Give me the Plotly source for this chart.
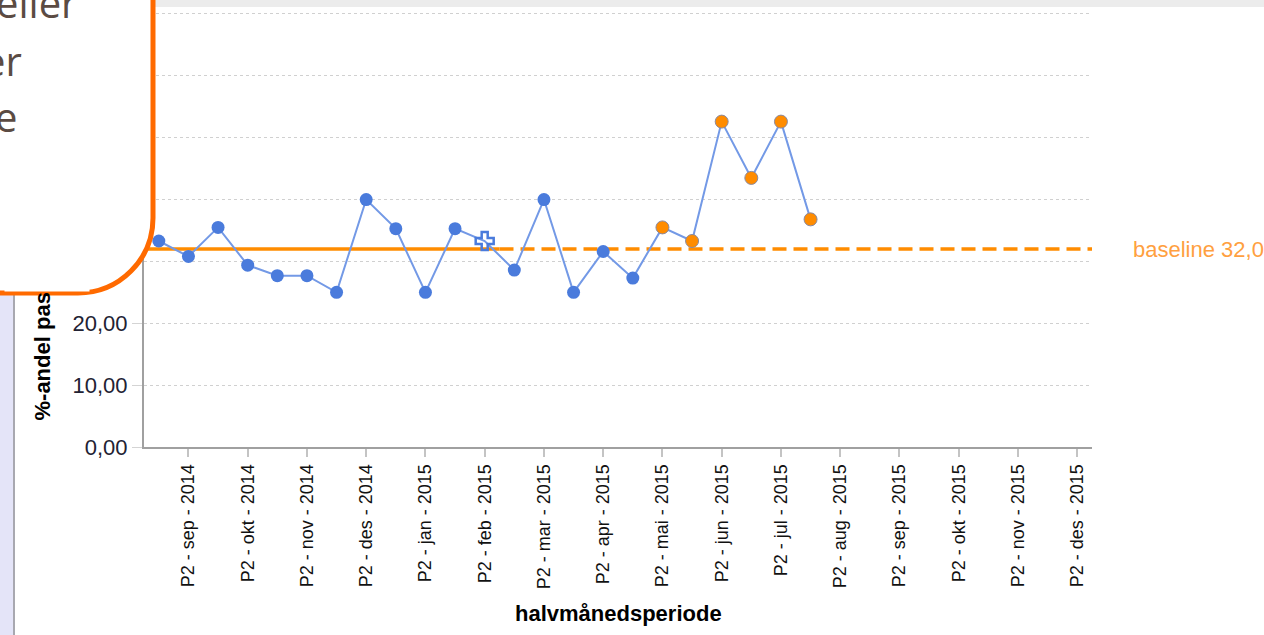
"""
Run chart: half-month share of patients, with baseline and a callout box on top.
"""
import plotly.graph_objects as go

# ---- data -------------------------------------------------------------
MONTHS = [
    "sep - 2014", "okt - 2014", "nov - 2014", "des - 2014",
    "jan - 2015", "feb - 2015", "mar - 2015", "apr - 2015",
    "mai - 2015", "jun - 2015", "jul - 2015", "aug - 2015",
    "sep - 2015", "okt - 2015", "nov - 2015", "des - 2015",
]
HALVES = ["P1", "P2"]
PERIODS = [f"{h} - {m}" for m in MONTHS for h in HALVES]
TICK_PERIODS = [f"P2 - {m}" for m in MONTHS]

VALUES = [
    33.3, 30.8, 35.5, 29.4, 27.7, 27.7, 25.0, 40.0,
    35.3, 25.0, 35.3, 33.3, 28.6, 40.0, 25.0, 31.6,
    27.3, 35.5, 33.3, 52.6, 43.5, 52.6, 36.8,
]
# 1 = point flagged as part of a shift (drawn orange)
SIGNAL = [
    0, 0, 0, 0, 0, 0, 0, 0,
    0, 0, 0, 0, 0, 0, 0, 0,
    0, 1, 1, 1, 1, 1, 1,
]
BASELINE = 32.0
BASELINE_POINTS = 12          # first 12 periods make up the baseline
Y_TICKS = [0, 10, 20, 30, 40, 50, 60, 70]

# only the tail of each callout line is inside the picture
CALLOUT_LINES = ["eller", "er", "e"]
CALLOUT_RIGHT = [79, 24, 19]  # pixel x where each visible line ends
Y_TITLE = "%-andel pasienter"
X_TITLE = "halvmånedsperiode"

# ---- layout geometry (pixels) ----------------------------------------
W, H = 1264, 635
PLOT_L, PLOT_R, PLOT_T, PLOT_B = 144, 1092, 2, 447
PX_PER_UNIT = 6.186

BLUE = "#4a7bdc"
BLUE_LINE = "#7399e6"
ORANGE = "#ff8c00"
FONT = "Liberation Sans, Arial, sans-serif"


def px_x(px):
    """Pixel x -> paper x."""
    return (px - PLOT_L) / (PLOT_R - PLOT_L)


def px_y(py):
    """Pixel y (from top) -> paper y."""
    return (PLOT_B - py) / (PLOT_B - PLOT_T)


def callout_path(right, bottom, radius, left=-40, top=-40):
    """Rounded (bottom-right) box as an SVG path in paper coords."""
    k = 0.552 * radius
    pts = [
        ("M", (left, top)),
        ("L", (right, top)),
        ("L", (right, bottom - radius)),
    ]
    path = " ".join(f"{c} {px_x(x):.5f},{px_y(y):.5f}" for c, (x, y) in pts)
    path += (
        f" C {px_x(right):.5f},{px_y(bottom - radius + k):.5f}"
        f" {px_x(right - radius + k):.5f},{px_y(bottom):.5f}"
        f" {px_x(right - radius):.5f},{px_y(bottom):.5f}"
    )
    path += f" L {px_x(left):.5f},{px_y(bottom):.5f} Z"
    return path


def create_run_chart():
    n = len(VALUES)
    x = PERIODS[:n]
    fig = go.Figure()

    # connecting line
    fig.add_trace(go.Scatter(
        x=x, y=VALUES, mode="lines",
        line=dict(color=BLUE_LINE, width=2),
        hoverinfo="skip",
    ))

    cross_idx = BASELINE_POINTS - 1
    normal = [i for i in range(n) if not SIGNAL[i] and i != cross_idx]
    signal = [i for i in range(n) if SIGNAL[i]]

    fig.add_trace(go.Scatter(
        x=[x[i] for i in normal], y=[VALUES[i] for i in normal],
        mode="markers",
        marker=dict(color=BLUE, size=13, line=dict(width=0)),
    ))
    fig.add_trace(go.Scatter(
        x=[x[i] for i in signal], y=[VALUES[i] for i in signal],
        mode="markers",
        marker=dict(color=ORANGE, size=13, line=dict(color="#8a8aa0", width=1)),
    ))
    fig.add_trace(go.Scatter(
        x=[x[cross_idx]], y=[VALUES[cross_idx]],
        mode="markers",
        marker=dict(symbol="cross-open", color=BLUE, size=15,
                    line=dict(width=2.5, color=BLUE)),
    ))

    # baseline: solid over the baseline periods, dashed afterwards
    split = BASELINE_POINTS - 0.5
    fig.add_shape(type="line", xref="x", yref="y", layer="between",
                  x0=-0.5, x1=split, y0=BASELINE, y1=BASELINE,
                  line=dict(color=ORANGE, width=3.5))
    fig.add_shape(type="line", xref="x", yref="y", layer="between",
                  x0=split, x1=len(PERIODS) - 0.5, y0=BASELINE, y1=BASELINE,
                  line=dict(color=ORANGE, width=3.5, dash="14px,7px"))
    fig.add_annotation(
        xref="paper", yref="y", x=px_x(1131), y=BASELINE,
        xanchor="left", yanchor="middle", showarrow=False,
        text=f"baseline {BASELINE:.1f}".replace(".", ","),
        font=dict(family=FONT, size=22, color="#ffa040"),
    )

    # page furniture: lavender side strip, grey top bar
    fig.add_shape(type="rect", xref="paper", yref="paper", layer="below",
                  x0=px_x(-5), x1=px_x(13), y0=px_y(H + 5), y1=px_y(280),
                  fillcolor="#e4e4f8", line=dict(width=0))
    fig.add_shape(type="line", xref="paper", yref="paper", layer="below",
                  x0=px_x(14), x1=px_x(14), y0=px_y(H + 5), y1=px_y(280),
                  line=dict(color="#a8a8b0", width=2))
    fig.add_shape(type="rect", xref="paper", yref="paper", layer="above",
                  x0=px_x(0), x1=px_x(W + 5), y0=px_y(7), y1=px_y(-5),
                  fillcolor="#ececec", line=dict(width=0))

    # callout box overlapping the chart
    fig.add_shape(type="path", xref="paper", yref="paper", layer="above",
                  path=callout_path(right=153, bottom=293, radius=75),
                  fillcolor="white", line=dict(color="#ff6a00", width=5))

    # axis titles (as annotations so the callout can hide part of them)
    fig.add_annotation(
        xref="paper", yref="paper", x=px_x(42), y=px_y(423),
        xanchor="center", yanchor="bottom", textangle=-90, showarrow=False,
        text=Y_TITLE, font=dict(family=FONT, size=22, color="black", weight="bold"),
    )
    fig.add_annotation(  # white cover inside the callout
        xref="paper", yref="paper", x=px_x(4), y=px_y(0),
        xanchor="left", yanchor="top", showarrow=False,
        text="\u00a0", width=84, height=290, bgcolor="white", borderpad=0,
    )
    for i, (line, right) in enumerate(zip(CALLOUT_LINES, CALLOUT_RIGHT)):
        fig.add_annotation(
            xref="paper", yref="paper", x=px_x(right), y=px_y(3 + 57 * i),
            xanchor="right", yanchor="middle", showarrow=False, align="right",
            text=line, font=dict(family="Open Sans", size=40, color="#5b4b43"),
        )
    fig.add_annotation(
        xref="paper", yref="paper", x=0.5, y=px_y(613),
        xanchor="center", yanchor="middle", showarrow=False,
        text=X_TITLE, font=dict(family=FONT, size=22, color="black", weight="bold"),
    )

    fig.update_layout(
        width=W, height=H,
        margin=dict(l=PLOT_L, r=W - PLOT_R, t=PLOT_T, b=H - PLOT_B, pad=0),
        paper_bgcolor="white", plot_bgcolor="white",
        showlegend=False, separators=",.",
        font=dict(family=FONT),
        xaxis=dict(
            type="category", categoryorder="array", categoryarray=PERIODS,
            range=[-0.5, len(PERIODS) - 0.5],
            tickmode="array", tickvals=TICK_PERIODS, ticktext=TICK_PERIODS,
            tickangle=-90, tickfont=dict(size=18, color="#111111"),
            ticks="outside", ticklen=8, tickwidth=2, tickcolor="#c4c4c4",
            showgrid=False, zeroline=False,
            showline=True, linecolor="#a0a0a0", linewidth=2,
        ),
        yaxis=dict(
            range=[0, (PLOT_B - PLOT_T) / PX_PER_UNIT],
            tickmode="array", tickvals=Y_TICKS, tickformat=".2f",
            tickfont=dict(size=22, color="#222233"),
            ticks="outside", ticklen=10, tickwidth=1, tickcolor="#d4d4d4",
            showgrid=True, gridcolor="#d0d0d0", griddash="dot", gridwidth=1,
            zeroline=False,
            showline=True, linecolor="#a0a0a0", linewidth=2,
        ),
    )
    return fig


fig = create_run_chart()
fig.write_html("out.html", config={"displayModeBar": False},
               post_script="document.body.style.margin='0';")
